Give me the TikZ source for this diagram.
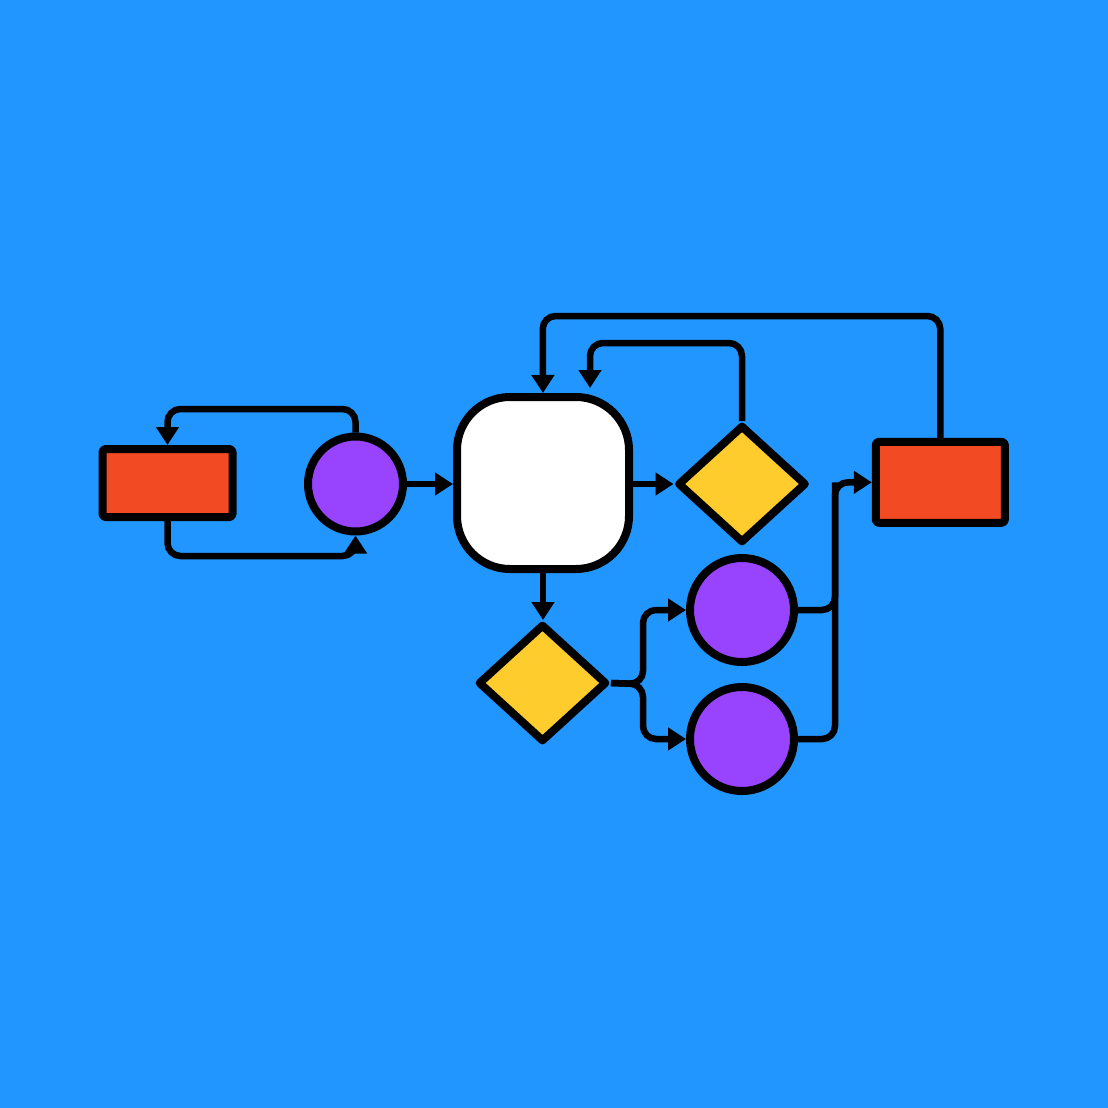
\documentclass[tikz,border=0pt]{standalone}
\usetikzlibrary{shapes.geometric,arrows.meta,calc}
\definecolor{bgblue}{RGB}{34,150,255}
\definecolor{redbox}{RGB}{242,74,35}
\definecolor{purp}{RGB}{152,68,255}
\definecolor{yel}{RGB}{255,204,46}
\begin{document}
\begin{tikzpicture}[x=1pt,y=-1pt,
  shapeline/.style={draw=black,line width=8pt,line join=round,inner sep=0pt},
  recbox/.style={shapeline,rectangle,rounded corners=3pt,fill=redbox},
  circ/.style={shapeline,circle,fill=purp},
  dia/.style={shapeline,diamond,fill=yel,minimum width=129pt,minimum height=118pt},
  whitebox/.style={shapeline,rectangle,rounded corners=53pt,fill=white,minimum width=172pt,minimum height=172pt},
  conn/.style={draw=black,line width=6.5pt,rounded corners=13pt},
  arr/.style={conn,-{Triangle[length=18pt,width=22pt]}}]
\fill[bgblue] (0,0) rectangle (1108,1108);
\useasboundingbox (0,0) rectangle (1108,1108);
% nodes
\node[recbox,minimum width=130pt,minimum height=68pt] (rL) at (167.5,483) {};
\node[circ,minimum size=95pt] (cL) at (355.5,484) {};
\node[whitebox] (box) at (543,483) {};
\node[dia] (dU) at (742,484) {};
\node[dia] (dB) at (542.5,683) {};
\node[circ,minimum size=104pt] (cR1) at (742,610) {};
\node[circ,minimum size=104pt] (cR2) at (742,739) {};
\node[recbox,minimum width=129pt,minimum height=81pt] (rR) at (940.3,482.3) {};
% coordinates
\coordinate (l1) at (355.5,409);
\coordinate (b1) at (355.5,556);
\coordinate (t1) at (542.7,316);
\coordinate (t2a) at (742,343);
\coordinate (t2) at (590,388);
\coordinate (j) at (643,684);
\coordinate (v) at (835,482.3);
% connectors
\draw[arr] (cL.north) -- (l1) -| (rL.north);
\draw[arr] (rL.south) |- (b1) -- (cL.south);
\draw[arr] (cL.east) -- (cL.east -| box.west);
\draw[arr] (box.east |- dU.west) -- (dU.west);
\draw[arr] (dU.north) -- (t2a) -| (t2);
\draw[arr] (rR.north) |- (t1) -- (box.north);
\draw[arr] (box.south) -- (box.south |- dB.north);
\draw[arr] (dB.east) -- (j) |- (cR1.west);
\draw[arr] (dB.east) -- (j) |- (cR2.west);
\draw[conn] (cR1.east) -| (v);
\draw[arr] (cR2.east) -| (v) -- (rR.west);
\end{tikzpicture}
\end{document}
